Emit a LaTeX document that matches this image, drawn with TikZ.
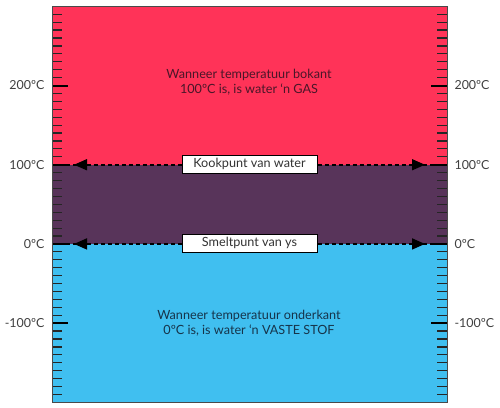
\documentclass[tikz,border=0pt]{standalone}
\usepackage{fontspec}
\setmainfont{Lato}
\usepackage{xcolor}
\usepackage{tikz}
\usetikzlibrary{arrows.meta}
\definecolor{gasRed}{HTML}{FF3358}
\definecolor{liqPurple}{HTML}{58345A}
\definecolor{solBlue}{HTML}{40BFF0}
\definecolor{gasText}{HTML}{4A1628}
\definecolor{solText}{HTML}{16344A}
\definecolor{frameGray}{HTML}{4A4A4A}

\begin{document}
\begin{tikzpicture}[
  x=1bp, y=0.792bp,
  font=\fontsize{12.7}{15}\selectfont,
  every node/.style={align=center},
  scalelabel/.style={font=\fontsize{12.5}{14}\selectfont, text=black!75},
  marker/.style={rectangle, draw=black, line width=0.8pt, fill=white,
    minimum width=135bp, minimum height=18bp, inner sep=0pt,
    font=\fontsize{12.7}{14}\selectfont, text=black!80},
  minortick/.style={line width=1.2pt, draw=black!85},
  majortick/.style={line width=2pt, draw=black},
  boundary/.style={line width=1.6pt, dash pattern=on 4bp off 3bp},
  arr/.style={{Triangle[length=13bp, width=11bp]}-{Triangle[length=13bp, width=11bp]}, line width=1.6pt}
]
\useasboundingbox (0,-207) rectangle (500,308);

% phases
\fill[gasRed]    (52,100) rectangle (447,300);
\fill[liqPurple] (52,0)   rectangle (447,100);
\fill[solBlue]   (52,-200) rectangle (447,0);

% scale ticks
\foreach \t in {-190,-180,...,290} {
  \draw[minortick] (52,\t) -- ++(10,0);
  \draw[minortick] (447,\t) -- ++(-10,0);
}
\foreach \t in {-100,0,100,200} {
  \draw[majortick] (52,\t) -- ++(16,0);
  \draw[majortick] (447,\t) -- ++(-16,0);
}

% scale labels
\foreach \t/\lab in {200/200ºC, 100/100ºC, 0/0ºC, -100/-100ºC} {
  \node[scalelabel, anchor=east] (l\t) at (48,\t) {\lab};
  \node[scalelabel, anchor=west] (r\t) at (451,\t) {\lab};
}

% boiling and melting lines
\coordinate (kookL) at (74,100);
\coordinate (kookR) at (425,100);
\coordinate (smeltL) at (74,0);
\coordinate (smeltR) at (425,0);
\draw[boundary] (52,100) -- (447,100);
\draw[boundary] (52,0) -- (447,0);
\draw[boundary, arr] (kookL) -- (kookR);
\draw[boundary, arr] (smeltL) -- (smeltR);

\node[marker] (kook) at (249.5,101) {Kookpunt van water};
\node[marker] (smelt) at (249.5,1) {Smeltpunt van ys};

% phase descriptions
\node[text=gasText] (gas) at (249,204)
  {Wanneer temperatuur bokant\\100ºC is, is water ‘n GAS};
\node[text=solText] (vaste) at (249,-100)
  {Wanneer temperatuur onderkant\\0ºC is, is water ‘n VASTE STOF};

% frame
\draw[frameGray, line width=1pt] (52,-200) rectangle (447,300);

\end{tikzpicture}
\end{document}
